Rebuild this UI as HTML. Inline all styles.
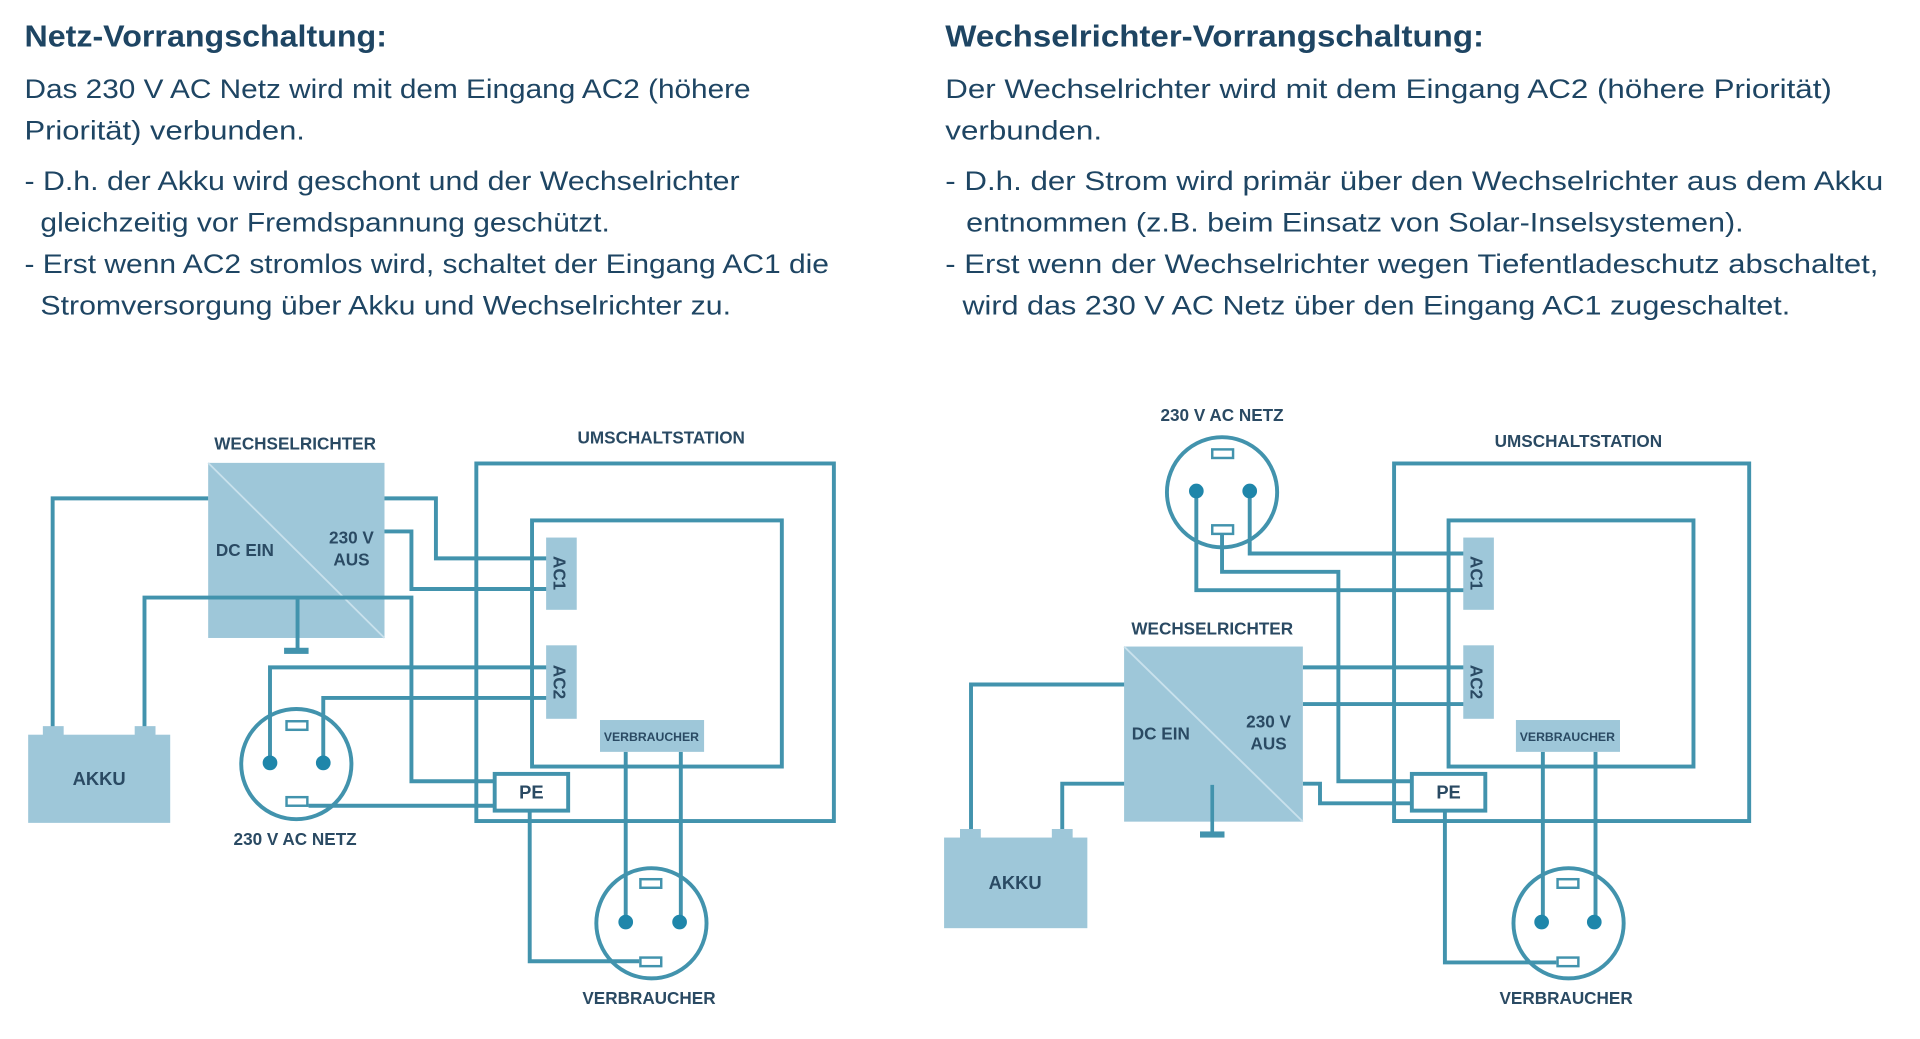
<!DOCTYPE html>
<html><head><meta charset="utf-8"><style>
html,body{margin:0;padding:0;background:#fff;}
svg{display:block;}
.t{font-family:"Liberation Sans",sans-serif;fill:#1e4563;}
.b{font-size:22px;}
.h{font-size:25px;font-weight:bold;}
.l{font-family:"Liberation Sans",sans-serif;font-weight:bold;fill:#2a4a63;font-size:14px;text-anchor:middle;}
.w{fill:none;stroke:#4293ad;stroke-width:3.2;}
.f{fill:#9ec7d9;}
</style></head><body>
<svg width="1920" height="1039" viewBox="0 0 1568 848.5" preserveAspectRatio="none" xmlns="http://www.w3.org/2000/svg">
<rect width="1568" height="849" fill="#fff"/>
<!-- Text left -->
<text class="t h" x="20" y="38" textLength="296" lengthAdjust="spacingAndGlyphs">Netz-Vorrangschaltung:</text>
<text class="t b" x="20" y="80" textLength="593" lengthAdjust="spacingAndGlyphs">Das 230 V AC Netz wird mit dem Eingang AC2 (höhere</text>
<text class="t b" x="20" y="114" textLength="229" lengthAdjust="spacingAndGlyphs">Priorität) verbunden.</text>
<text class="t b" x="20" y="155" textLength="584" lengthAdjust="spacingAndGlyphs">- D.h. der Akku wird geschont und der Wechselrichter</text>
<text class="t b" x="33" y="189" textLength="465" lengthAdjust="spacingAndGlyphs">gleichzeitig vor Fremdspannung geschützt.</text>
<text class="t b" x="20" y="223" textLength="657" lengthAdjust="spacingAndGlyphs">- Erst wenn AC2 stromlos wird, schaltet der Eingang AC1 die</text>
<text class="t b" x="33" y="257" textLength="564" lengthAdjust="spacingAndGlyphs">Stromversorgung über Akku und Wechselrichter zu.</text>
<!-- Text right -->
<text class="t h" x="772" y="38" textLength="440" lengthAdjust="spacingAndGlyphs">Wechselrichter-Vorrangschaltung:</text>
<text class="t b" x="772" y="80" textLength="724" lengthAdjust="spacingAndGlyphs">Der Wechselrichter wird mit dem Eingang AC2 (höhere Priorität)</text>
<text class="t b" x="772" y="114" textLength="128" lengthAdjust="spacingAndGlyphs">verbunden.</text>
<text class="t b" x="772" y="155" textLength="766" lengthAdjust="spacingAndGlyphs">- D.h. der Strom wird primär über den Wechselrichter aus dem Akku</text>
<text class="t b" x="789" y="189" textLength="635" lengthAdjust="spacingAndGlyphs">entnommen (z.B. beim Einsatz von Solar-Inselsystemen).</text>
<text class="t b" x="772" y="223" textLength="762" lengthAdjust="spacingAndGlyphs">- Erst wenn der Wechselrichter wegen Tiefentladeschutz abschaltet,</text>
<text class="t b" x="786" y="257" textLength="676" lengthAdjust="spacingAndGlyphs">wird das 230 V AC Netz über den Eingang AC1 zugeschaltet.</text>

<!-- LEFT DIAGRAM -->
<text class="l" x="241" y="367">WECHSELRICHTER</text>
<text class="l" x="540" y="362">UMSCHALTSTATION</text>
<rect class="w" x="389" y="378.5" width="292" height="292"/>
<rect class="w" x="434.5" y="425" width="204" height="201"/>
<rect class="f" x="170" y="378" width="144" height="143"/>
<line x1="170" y1="378" x2="314" y2="521" stroke="#c9e1ec" stroke-width="1.5"/>
<text class="l" x="200" y="454">DC EIN</text>
<text class="l" x="287" y="444">230 V</text>
<text class="l" x="287" y="462">AUS</text>
<!-- wires -->
<polyline class="w" points="170,407 43,407 43,597"/>
<polyline class="w" points="118,597 118,488 336,488 336,638 404,638"/>
<polyline class="w" points="243,488 243,531"/>
<rect x="232" y="529" width="20" height="5" fill="#4293ad"/>
<polyline class="w" points="314,407 356,407 356,456 447,456"/>
<polyline class="w" points="314,434 336,434 336,481 447,481"/>
<polyline class="w" points="220.5,624 220.5,545 447,545"/>
<polyline class="w" points="264,624 264,570 447,570"/>
<polyline class="w" points="252,658 404,658"/>
<polyline class="w" points="432.6,662 432.6,785 522,785"/>
<polyline class="w" points="511,614 511,755"/>
<polyline class="w" points="556,614 556,755"/>
<!-- akku -->
<rect class="f" x="23" y="600" width="116" height="72"/>
<rect class="f" x="35" y="593" width="17" height="8"/>
<rect class="f" x="110" y="593" width="17" height="8"/>
<text class="l" x="81" y="641" style="font-size:15px">AKKU</text>
<!-- AC boxes -->
<rect class="f" x="446" y="439" width="25" height="59"/>
<rect class="f" x="446" y="527" width="25" height="60"/>
<text class="l" transform="translate(452,468) rotate(90)" y="0">AC1</text>
<text class="l" transform="translate(452,557) rotate(90)" y="0">AC2</text>
<rect class="f" x="490" y="588" width="85" height="26"/>
<text class="l" x="532" y="605" style="font-size:10px">VERBRAUCHER</text>
<rect x="404" y="632" width="60" height="30" fill="#fff" stroke="#4293ad" stroke-width="3.2"/>
<text class="l" x="434" y="652" style="font-size:15px">PE</text>
<!-- netz socket -->
<circle class="w" cx="242" cy="624" r="45"/>
<rect x="234" y="589" width="17" height="7" fill="#fff" stroke="#4293ad" stroke-width="2"/>
<rect x="234" y="651" width="17" height="7" fill="#fff" stroke="#4293ad" stroke-width="2"/>
<circle cx="220.5" cy="623" r="6" fill="#1f86aa"/>
<circle cx="264" cy="623" r="6" fill="#1f86aa"/>
<text class="l" x="241" y="690">230 V AC NETZ</text>
<!-- verbraucher socket -->
<circle class="w" cx="532" cy="754" r="45"/>
<rect x="523" y="718" width="17" height="7" fill="#fff" stroke="#4293ad" stroke-width="2"/>
<rect x="523" y="782" width="17" height="7" fill="#fff" stroke="#4293ad" stroke-width="2"/>
<circle cx="511" cy="753" r="6" fill="#1f86aa"/>
<circle cx="555" cy="753" r="6" fill="#1f86aa"/>
<text class="l" x="530" y="820">VERBRAUCHER</text>

<!-- RIGHT DIAGRAM -->
<text class="l" x="998" y="344">230 V AC NETZ</text>
<text class="l" x="1289" y="365">UMSCHALTSTATION</text>
<text class="l" x="990" y="518">WECHSELRICHTER</text>
<rect class="w" x="1138.5" y="378.5" width="290" height="292"/>
<rect class="w" x="1183" y="425" width="200" height="201"/>
<!-- wires -->
<polyline class="w" points="1020.6,402 1020.6,452 1198,452"/>
<polyline class="w" points="977,402 977,482 1198,482"/>
<polyline class="w" points="998,436 998,467 1093,467 1093,638 1153,638"/>
<polyline class="w" points="1064,545 1198,545"/>
<polyline class="w" points="1064,575 1198,575"/>
<polyline class="w" points="919,559 793,559 793,677"/>
<polyline class="w" points="919,640 867.5,640 867.5,677"/>
<polyline class="w" points="1064,640 1078,640 1078,656 1153,656"/>
<polyline class="w" points="1180,662 1180,786 1271,786"/>
<polyline class="w" points="1260,614 1260,755"/>
<polyline class="w" points="1303,614 1303,755"/>
<rect class="f" x="918" y="528" width="146" height="143"/>
<line x1="918" y1="528" x2="1064" y2="671" stroke="#c9e1ec" stroke-width="1.5"/>
<line x1="990" y1="641" x2="990" y2="682" stroke="#4293ad" stroke-width="3"/>
<rect x="980" y="679" width="20" height="5" fill="#4293ad"/>
<text class="l" x="948" y="604">DC EIN</text>
<text class="l" x="1036" y="594">230 V</text>
<text class="l" x="1036" y="612">AUS</text>
<!-- akku -->
<rect class="f" x="771" y="684" width="117" height="74"/>
<rect class="f" x="784" y="677" width="17" height="8"/>
<rect class="f" x="859" y="677" width="17" height="8"/>
<text class="l" x="829" y="726" style="font-size:15px">AKKU</text>
<!-- AC boxes -->
<rect class="f" x="1195" y="439" width="25" height="59"/>
<rect class="f" x="1195" y="527" width="25" height="60"/>
<text class="l" transform="translate(1201,468) rotate(90)" y="0">AC1</text>
<text class="l" transform="translate(1201,557) rotate(90)" y="0">AC2</text>
<rect class="f" x="1238" y="588" width="85" height="26"/>
<text class="l" x="1280" y="605" style="font-size:10px">VERBRAUCHER</text>
<rect x="1153" y="632" width="60" height="30" fill="#fff" stroke="#4293ad" stroke-width="3.2"/>
<text class="l" x="1183" y="652" style="font-size:15px">PE</text>
<!-- netz socket right -->
<circle class="w" cx="998" cy="402" r="45"/>
<rect x="990" y="367" width="17" height="7" fill="#fff" stroke="#4293ad" stroke-width="2"/>
<rect x="990" y="429" width="17" height="7" fill="#fff" stroke="#4293ad" stroke-width="2"/>
<circle cx="977" cy="401" r="6" fill="#1f86aa"/>
<circle cx="1020.6" cy="401" r="6" fill="#1f86aa"/>
<!-- verbraucher socket right -->
<circle class="w" cx="1281" cy="754" r="45"/>
<rect x="1272" y="718" width="17" height="7" fill="#fff" stroke="#4293ad" stroke-width="2"/>
<rect x="1272" y="782" width="17" height="7" fill="#fff" stroke="#4293ad" stroke-width="2"/>
<circle cx="1259" cy="753" r="6" fill="#1f86aa"/>
<circle cx="1302" cy="753" r="6" fill="#1f86aa"/>
<text class="l" x="1279" y="820">VERBRAUCHER</text>
</svg>
</body></html>
